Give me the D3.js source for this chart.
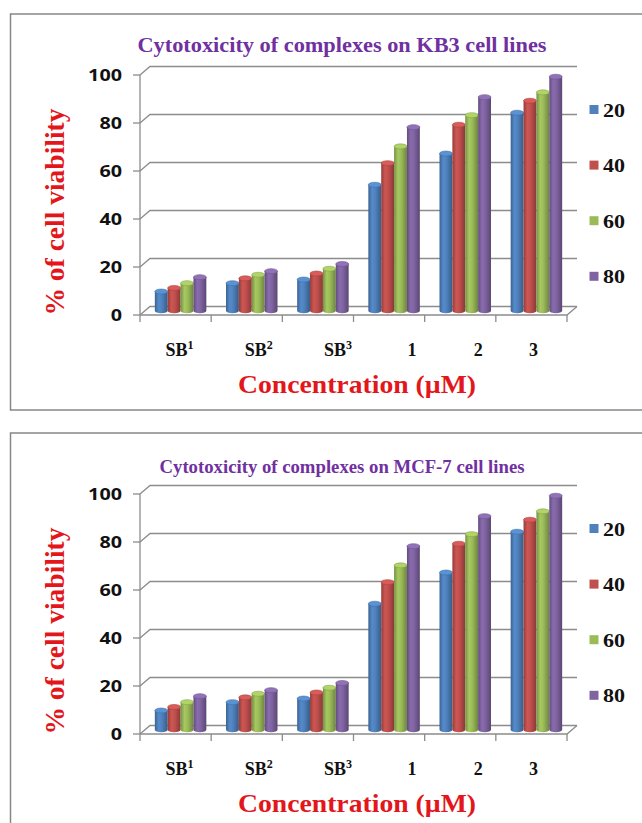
<!DOCTYPE html>
<html>
<head>
<meta charset="utf-8">
<script src="https://cdn.jsdelivr.net/npm/d3@7/dist/d3.min.js"></script>
<style>
  body { margin: 0; background: #ffffff; }
  svg { display: block; }
  .serif { font-family: "Liberation Serif", "Times New Roman", Times, serif; font-weight: bold; }
  .sans { font-family: "Open Sans", "Liberation Sans", Arial, sans-serif; font-weight: bold; }
</style>
</head>
<body>
<svg id="chart" width="642" height="823"></svg>
<script>
// ---- data ----
const categories = ["SB1", "SB2", "SB3", "1", "2", "3"];
const categoryBase = ["SB", "SB", "SB", "1", "2", "3"];
const categorySup = ["1", "2", "3", "", "", ""];
const concentrations = ["20", "40", "60", "80"];
const yTicks = [0, 20, 40, 60, 80, 100];

// % cell viability, KB3 cell line
const kb3_20 = [8, 11.5, 13, 52.5, 65.5, 82.5];
const kb3_40 = [9.5, 13.5, 15.5, 61.5, 77.5, 87.5];
const kb3_60 = [11.5, 15, 17.5, 68.5, 81.5, 91];
const kb3_80 = [14, 16.5, 19.5, 76.5, 89, 97.5];

// % cell viability, MCF-7 cell line
const mcf7_20 = [8, 11.5, 13, 52.5, 65.5, 82.5];
const mcf7_40 = [9.5, 13.5, 15.5, 61.5, 77.5, 87.5];
const mcf7_60 = [11.5, 15, 17.5, 68.5, 81.5, 91];
const mcf7_80 = [14, 16.5, 19.5, 76.5, 89, 97.5];

// ---- styling / layout ----
const seriesColors = ["#4f81bd", "#c0504d", "#9bbb59", "#8064a2"];
const gridColor = "#8c8c8c";
const titlePurple = "#7030a0";
const axisRed = "#e3171b";

const FRONT_LEFT = 140, FRONT_RIGHT = 567;
const DX = 10, DY = -8.5;          // depth offset of the back wall
const GROUP_W = 51.5;               // width of one cluster of cylinders
const RY = 2.5;                     // vertical radius of cylinder caps
const labelNudge = [4, 12, 20, 23, 18, 2];

const svg = d3.select("#chart");
const defs = svg.append("defs");

// horizontal shading for cylinder bodies
seriesColors.forEach((c, i) => {
  const base = d3.color(c);
  const grad = defs.append("linearGradient")
    .attr("id", "cyl" + i).attr("x1", 0).attr("x2", 1).attr("y1", 0).attr("y2", 0);
  grad.append("stop").attr("offset", "0%").attr("stop-color", base.darker(0.75));
  grad.append("stop").attr("offset", "30%").attr("stop-color", base.brighter(0.2));
  grad.append("stop").attr("offset", "55%").attr("stop-color", base);
  grad.append("stop").attr("offset", "100%").attr("stop-color", base.darker(0.95));
});

function drawPanel(offsetY, title, titleSize, titleLen, titleBaseline, seriesValues) {
  const g = svg.append("g").attr("transform", `translate(0,${offsetY})`);

  // frame
  g.append("rect")
    .attr("x", 10.5).attr("y", 14).attr("width", 640).attr("height", 396)
    .attr("fill", "none").attr("stroke", "#878787").attr("stroke-width", 1.5);

  const x = d3.scaleBand().domain(categories).range([FRONT_LEFT, FRONT_RIGHT]);
  const y = d3.scaleLinear().domain([0, 100]).range([315, 75]);
  const inner = d3.scaleBand().domain(concentrations).range([0, GROUP_W]);

  // back wall gridlines with their depth stubs
  const grid = g.append("g").attr("stroke", gridColor).attr("stroke-width", 1.3).attr("fill", "none");
  yTicks.forEach(t => {
    const yf = y(t);
    grid.append("path")
      .attr("d", `M${FRONT_LEFT},${yf}L${FRONT_LEFT + DX},${yf + DY}L${FRONT_RIGHT + DX},${yf + DY}`);
    grid.append("line")
      .attr("x1", FRONT_LEFT - 7).attr("x2", FRONT_LEFT).attr("y1", yf).attr("y2", yf);
  });
  // vertical axis, floor front edge and right floor edge
  grid.append("line").attr("x1", FRONT_LEFT).attr("x2", FRONT_LEFT)
    .attr("y1", y(100)).attr("y2", y(0) + 7);
  grid.append("path")
    .attr("d", `M${FRONT_LEFT},${y(0)}L${FRONT_RIGHT},${y(0)}L${FRONT_RIGHT + DX},${y(0) + DY}`);
  categories.forEach(c => {
    const xe = x(c) + x.bandwidth();
    grid.append("line").attr("x1", xe).attr("x2", xe).attr("y1", y(0)).attr("y2", y(0) + 7);
  });

  // y tick labels
  g.append("g").selectAll("text").data(yTicks).join("text")
    .attr("class", "sans")
    .attr("x", 122).attr("y", d => y(d)).attr("dy", "0.36em")
    .attr("text-anchor", "end")
    .attr("font-size", 16)
    .attr("textLength", d => String(d).length * 11.3).attr("lengthAdjust", "spacingAndGlyphs")
    .attr("fill", "#111")
    .text(d => d);

  // cylinders, sitting half-way into the depth of the plot
  const midDX = DX / 2, midDY = DY / 2;
  const bars = g.append("g");
  categories.forEach((c, ci) => {
    const gx = x(c) + (x.bandwidth() - GROUP_W) / 2 + midDX;
    concentrations.forEach((s, si) => {
      const v = seriesValues[si][ci];
      const x0 = gx + inner(s);
      const w = inner.bandwidth();
      const rx = w / 2;
      const yb = y(0) + midDY;
      const yt = y(v) + midDY;
      bars.append("path")
        .attr("d", `M${x0},${yt}L${x0},${yb}A${rx},${RY} 0 0 0 ${x0 + w},${yb}L${x0 + w},${yt}Z`)
        .attr("fill", `url(#cyl${si})`);
      bars.append("ellipse")
        .attr("cx", x0 + rx).attr("cy", yt).attr("rx", rx).attr("ry", RY)
        .attr("fill", d3.color(seriesColors[si]).brighter(0.35))
        .attr("stroke", d3.color(seriesColors[si]).darker(0.4)).attr("stroke-width", 0.6);
    });
  });

  // category labels
  const cat = g.append("g").attr("class", "serif").attr("font-size", 18).attr("fill", "#111");
  categories.forEach((c, ci) => {
    const t = cat.append("text")
      .attr("x", x(c) + x.bandwidth() / 2 + labelNudge[ci]).attr("y", 356)
      .attr("text-anchor", "middle");
    t.append("tspan").text(categoryBase[ci]);
    if (categorySup[ci]) {
      t.append("tspan").attr("font-size", 12).attr("dy", -7).text(categorySup[ci]);
    }
  });

  // legend
  const legend = g.append("g");
  concentrations.forEach((s, si) => {
    const ly = 110 + si * 55.6;
    legend.append("rect")
      .attr("x", 589.5).attr("y", ly - 5).attr("width", 9).attr("height", 9)
      .attr("fill", seriesColors[si]);
    legend.append("text")
      .attr("class", "serif")
      .attr("x", 603).attr("y", ly + 6.5)
      .attr("font-size", 19)
      .attr("textLength", 22).attr("lengthAdjust", "spacingAndGlyphs")
      .attr("fill", "#111").text(s);
  });

  // titles
  g.append("text")
    .attr("class", "serif")
    .attr("x", 342).attr("y", titleBaseline).attr("text-anchor", "middle")
    .attr("font-size", titleSize)
    .attr("textLength", titleLen).attr("lengthAdjust", "spacingAndGlyphs")
    .attr("fill", titlePurple).text(title);

  g.append("text")
    .attr("class", "serif")
    .attr("x", 357).attr("y", 393).attr("text-anchor", "middle")
    .attr("font-size", 26)
    .attr("textLength", 238).attr("lengthAdjust", "spacingAndGlyphs")
    .attr("fill", axisRed).text("Concentration (\u00b5M)");

  g.append("text")
    .attr("class", "serif")
    .attr("transform", "translate(64,212) rotate(-90)")
    .attr("text-anchor", "middle")
    .attr("font-size", 28)
    .attr("textLength", 207).attr("lengthAdjust", "spacingAndGlyphs")
    .attr("fill", axisRed).text("% of cell viability");
}

drawPanel(0, "Cytotoxicity of complexes on KB3 cell lines", 21.5, 409, 52,
  [kb3_20, kb3_40, kb3_60, kb3_80]);
drawPanel(419, "Cytotoxicity of complexes on MCF-7 cell lines", 18, 365, 54,
  [mcf7_20, mcf7_40, mcf7_60, mcf7_80]);
</script>
</body>
</html>
